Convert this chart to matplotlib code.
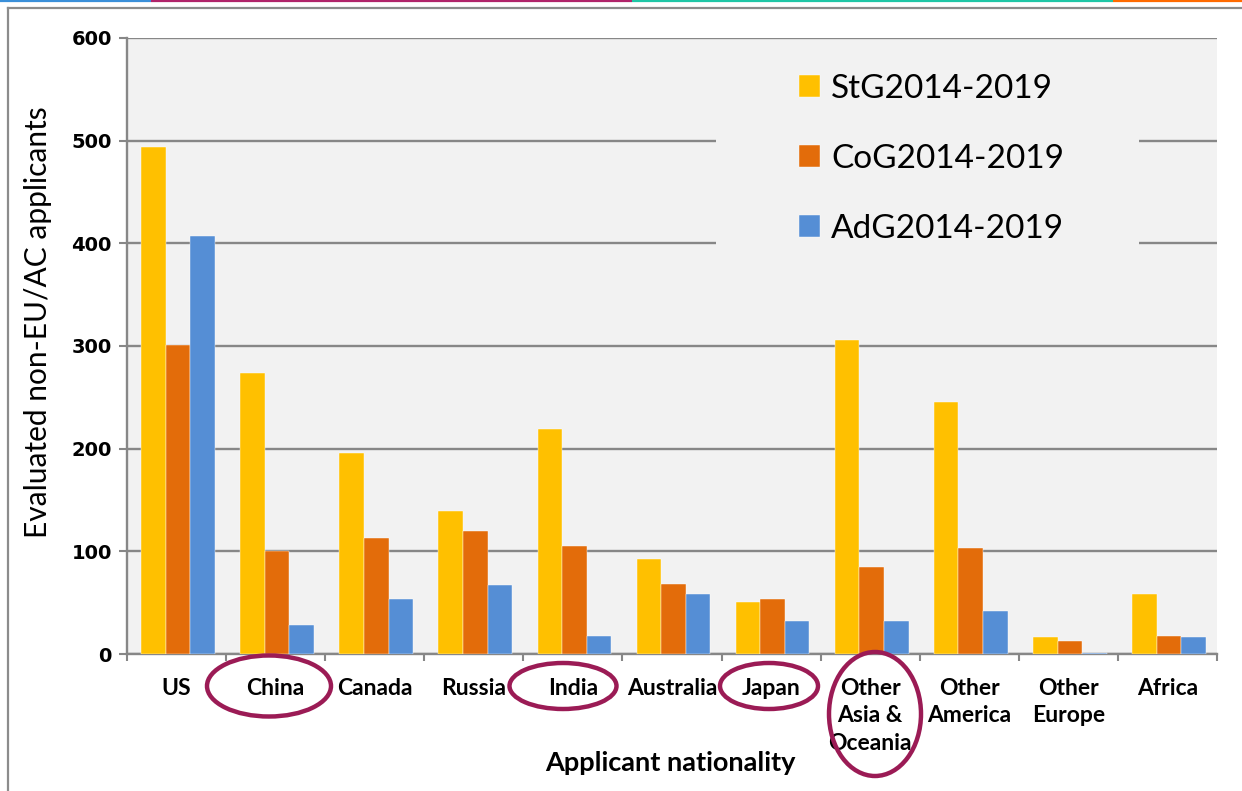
import numpy as np
import matplotlib.pyplot as plt
from matplotlib.patches import Ellipse, Rectangle
from matplotlib.lines import Line2D

# dati
paesi = ['US', 'China', 'Canada', 'Russia', 'India', 'Australia', 'Japan',
         'Other\nAsia &\nOceania', 'Other\nAmerica', 'Other\nEurope', 'Africa']
stg = [494, 274, 196, 139, 219, 93, 51, 306, 245, 17, 58]
cog = [301, 100, 113, 120, 105, 68, 54, 85, 103, 13, 18]
adg = [407, 28, 54, 67, 18, 58, 32, 32, 42, 1, 17]
serie = ['StG2014-2019', 'CoG2014-2019', 'AdG2014-2019']
colori = ['#FFC000', '#E36C0A', '#558ED5']

W, H = 1242, 791
fig = plt.figure(figsize=(W / 100, H / 100), dpi=100)
ax = fig.add_axes([127 / W, 1 - 654 / H, (1217 - 127) / W, (654 - 38) / H])
ax.set_facecolor('#F2F2F2')

x = np.arange(len(paesi))
larg = 0.248
for i, (vals, nome) in enumerate(zip([stg, cog, adg], serie)):
    ax.bar(x + (i - 1) * larg + 0.015, vals, larg, color=colori[i], label=nome,
           zorder=3, edgecolor='white', linewidth=0.3)

ax.set_xlim(-0.5, len(paesi) - 0.5)
ax.set_ylim(0, 600)
ax.set_yticks(range(0, 601, 100))
ax.yaxis.grid(True, color='#878787', linewidth=1.7, zorder=1)
ax.set_axisbelow(True)

for s in ['top', 'right']:
    ax.spines[s].set_visible(False)
for s in ['left', 'bottom']:
    ax.spines[s].set_color('#878787')
    ax.spines[s].set_linewidth(1.7)

ax.tick_params(axis='y', length=6, width=1.5, color='#878787', pad=5)
for t in ax.get_yticklabels():
    t.set_fontfamily('DejaVu Sans')
    t.set_fontweight('bold')
    t.set_fontsize(14)

# tick tra le categorie
ax.set_xticks(np.arange(-0.5, len(paesi), 1.0), minor=True)
ax.set_xticks(x)
ax.set_xticklabels(paesi, fontfamily='Lato', fontweight='bold', fontsize=16.5,
                   linespacing=1.4, va='top')
ax.tick_params(axis='x', which='major', length=0, pad=17)
ax.tick_params(axis='x', which='minor', length=5, width=1.5, color='#878787')

fig.text(38 / W, 1 - 322 / H, 'Evaluated non-EU/AC applicants', rotation=90,
         ha='center', va='center', fontfamily='Lato', fontsize=21.5)
fig.text(670 / W, 1 - 763 / H, 'Applicant nationality', ha='center', va='center',
         fontfamily='Lato', fontweight='bold', fontsize=19.5)

# riquadro della legenda
ax.add_patch(Rectangle(((716 - 127) / 1090, (654 - 295) / 616), (1139 - 716) / 1090,
                       (295 - 50) / 616, transform=ax.transAxes,
                       facecolor='#F2F2F2', edgecolor='none', zorder=2))
leg = ax.legend(loc='upper left', bbox_to_anchor=((799 - 127) / 1090, (654 - 74) / 616),
                frameon=False, prop={'family': 'Lato', 'size': 24},
                handlelength=0.62, handleheight=0.62, handletextpad=0.35,
                labelspacing=1.2, borderpad=0, borderaxespad=0)

# cerchi di evidenziazione
viola = '#9B1B55'
for cx, cy, w, h in [(269, 686, 124, 61), (563, 686, 107, 46),
                     (769, 686, 98, 46), (875, 714, 92, 124)]:
    fig.add_artist(Ellipse((cx / W, 1 - cy / H), w / W, h / H, transform=fig.transFigure,
                           fill=False, edgecolor=viola, linewidth=3.2))

# cornice e striscia colorata in alto
fig.add_artist(Line2D([8 / W, 1], [1 - 8 / H, 1 - 8 / H], transform=fig.transFigure,
                      color='#8C8C8C', linewidth=1.6))
fig.add_artist(Line2D([8 / W, 8 / W], [0, 1 - 8 / H], transform=fig.transFigure,
                      color='#8C8C8C', linewidth=1.6))
for x0, x1, c in [(0, 151, '#3A8FD9'), (151, 632, '#B0246A'),
                  (632, 1113, '#1FC6A6'), (1113, 1242, '#FF6A00')]:
    fig.add_artist(Line2D([x0 / W, x1 / W], [1 - 1 / H, 1 - 1 / H], transform=fig.transFigure,
                          color=c, linewidth=1.6, solid_capstyle='butt'))

fig.savefig('out.png', dpi=100)
